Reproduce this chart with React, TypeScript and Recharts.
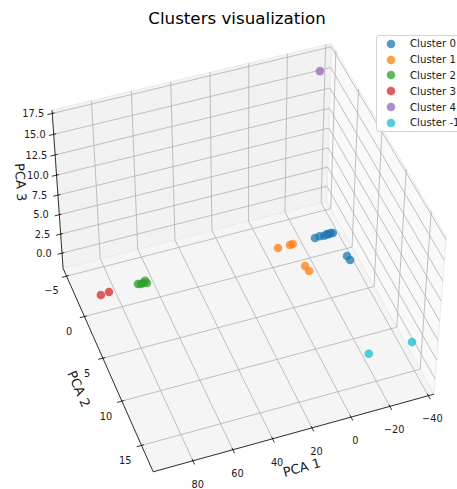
import React from 'react'
import { ComposedChart, XAxis, YAxis, Area, Line, Scatter, Legend } from 'recharts'

const W = 457
const H = 489

// limits of the 3d box (as drawn)
const PCA1_LIM = [-43, 99.7]
const PCA2_LIM = [-6, 17.9]
const PCA3_LIM = [-2, 17.9]

const PCA1_TICKS = [-40, -20, 0, 20, 40, 60, 80]
const PCA2_TICKS = [-5, 0, 5, 10, 15]
const PCA3_TICKS = [0, 2.5, 5, 7.5, 10, 12.5, 15, 17.5]

const CLUSTER_NAMES = ['Cluster 0', 'Cluster 1', 'Cluster 2', 'Cluster 3', 'Cluster 4', 'Cluster -1']
const CLUSTER_COLORS = ['#1f77b4', '#ff7f0e', '#2ca02c', '#d62728', '#9467bd', '#17becf']

// points
const cluster0Pca1 = [-23.5, -26.0, -28.5, -30.0, -31.0, -32.0, -33.3, -34.0, -34.4]
const cluster0Pca2 = [-0.42, -0.4, -0.4, -0.42, -0.45, -0.44, -0.46, 2.5, 3.04]
const cluster0Pca3 = [0, 0.1, 0, 0.1, 0, 0.1, 0, 0, 0]

const cluster1Pca1 = [-3.5, -9.9, -11.4, -11.7, -12.35]
const cluster1Pca2 = [-0.37, -0.36, -0.38, 2.4, 3.07]
const cluster1Pca3 = [0, 0, 0, 0, 0]

const cluster2Pca1 = [70.7, 69.3, 68.1, 66.7, 66.3]
const cluster2Pca2 = [-0.38, -0.3, -0.35, -0.52, -0.24]
const cluster2Pca3 = [0, 0, 0, 0, 0]

const cluster3Pca1 = [90.3, 85.9]
const cluster3Pca2 = [-0.22, -0.32]
const cluster3Pca3 = [0, 0]

const cluster4Pca1 = [-32.4]
const cluster4Pca2 = [-3.96]
const cluster4Pca3 = [17]

const clusterM1Pca1 = [-13.2, -35.4]
const clusterM1Pca2 = [15.8, 15.8]
const clusterM1Pca3 = [3, 3]

// camera, same maths as a matplotlib 3d axes
const ELEV = 45
const AZIM = 70
const DIST = 10
const K = 2608 // px per projected unit
const CX = 244.2
const CY = 253

type P3 = [number, number, number]

const dot = (a: number[], b: number[]) => a[0] * b[0] + a[1] * b[1] + a[2] * b[2]
const cross = (a: number[], b: number[]) => [
  a[1] * b[2] - a[2] * b[1],
  a[2] * b[0] - a[0] * b[2],
  a[0] * b[1] - a[1] * b[0],
]
const norm = (a: number[]) => {
  const n = Math.hypot(a[0], a[1], a[2])
  return a.map((c) => c / n)
}

const aspect = [4, 4, 3]
const BOX = aspect.map((a) => (a * 1.8294640721620434) / Math.hypot(4, 4, 3))
const er = (ELEV * Math.PI) / 180
const ar = (AZIM * Math.PI) / 180
const ps = [Math.cos(er) * Math.cos(ar), Math.cos(er) * Math.sin(ar), Math.sin(er)]
const EYE = BOX.map((b, i) => b / 2 + DIST * ps[i])
const wv = norm(ps)
const uv = norm(cross([0, 0, 1], wv))
const vv = cross(wv, uv)

function project(p: P3): { x: number; y: number } {
  const q = [
    ((p[0] - PCA1_LIM[0]) / (PCA1_LIM[1] - PCA1_LIM[0])) * BOX[0],
    ((p[1] - PCA2_LIM[0]) / (PCA2_LIM[1] - PCA2_LIM[0])) * BOX[1],
    ((p[2] - PCA3_LIM[0]) / (PCA3_LIM[1] - PCA3_LIM[0])) * BOX[2],
  ]
  const d = q.map((c, i) => c - EYE[i])
  const z = -dot(wv, d)
  return { x: dot(uv, d) / z, y: dot(vv, d) / z }
}

const screenAngle = (a: P3, b: P3) => {
  const pa = project(a)
  const pb = project(b)
  return (Math.atan2(-(pb.y - pa.y), pb.x - pa.x) * 180) / Math.PI
}

const [x0, x1] = PCA1_LIM
const [y0, y1] = PCA2_LIM
const [z0, z1] = PCA3_LIM

function paneData(corners: P3[]) {
  const poly = corners.map(project)
  const xs = Array.from(new Set(poly.map((p) => p.x))).sort((a, b) => a - b)
  return xs.map((x) => {
    const ys: number[] = []
    poly.forEach((p, i) => {
      const q = poly[(i + 1) % poly.length]
      if (p.x === q.x) {
        if (x === p.x) ys.push(p.y, q.y)
      } else if ((x - p.x) * (x - q.x) <= 0) {
        ys.push(p.y + ((q.y - p.y) * (x - p.x)) / (q.x - p.x))
      }
    })
    return { x, r: [Math.min(...ys), Math.max(...ys)] }
  })
}

function segData(segs: [P3, P3][]) {
  const out: { x: number; y: number | null }[] = []
  segs.forEach(([a, b]) => {
    const pa = project(a)
    const pb = project(b)
    out.push(pa, pb, { x: pb.x, y: null })
  })
  return out
}

const panes = [
  { key: 'xpane', fill: '#f9f9f9', corners: [[x0, y0, z0], [x0, y1, z0], [x0, y1, z1], [x0, y0, z1]] as P3[] },
  { key: 'ypane', fill: '#f2f2f2', corners: [[x0, y0, z0], [x1, y0, z0], [x1, y0, z1], [x0, y0, z1]] as P3[] },
  { key: 'zpane', fill: '#f5f5f5', corners: [[x0, y0, z0], [x1, y0, z0], [x1, y1, z0], [x0, y1, z0]] as P3[] },
]

const paneEdges: [P3, P3][] = []
panes.forEach((p) => p.corners.forEach((c, i) => paneEdges.push([c, p.corners[(i + 1) % 4]])))

const gridSegs: [P3, P3][] = []
PCA1_TICKS.forEach((t) => {
  gridSegs.push([[t, y0, z0], [t, y1, z0]])
  gridSegs.push([[t, y0, z0], [t, y0, z1]])
})
PCA2_TICKS.forEach((t) => {
  gridSegs.push([[x0, t, z0], [x1, t, z0]])
  gridSegs.push([[x0, t, z0], [x0, t, z1]])
})
PCA3_TICKS.forEach((t) => {
  gridSegs.push([[x0, y0, t], [x1, y0, t]])
  gridSegs.push([[x0, y0, t], [x0, y1, t]])
})

const axisSegs: [P3, P3][] = [
  [[x0, y1, z0], [x1, y1, z0]],
  [[x1, y0, z0], [x1, y1, z0]],
  [[x1, y0, z0], [x1, y0, z1]],
  ...PCA1_TICKS.map((t) => [[t, y1 - 0.2, z0], [t, y1 + 0.4, z0]] as [P3, P3]),
  ...PCA2_TICKS.map((t) => [[x1 - 1.2, t, z0], [x1 + 2.4, t, z0]] as [P3, P3]),
  ...PCA3_TICKS.map((t) => [[x1 - 1.2, y0, t], [x1 + 2.4, y0, t]] as [P3, P3]),
]

const fmt = (t: number) => (t < 0 ? '\u2212' + Math.abs(t) : String(t))

const labels = [
  ...PCA1_TICKS.map((t) => ({ ...project([t, y1 + 1.07, z0 - 1.86]), text: fmt(t), size: 9.8, angle: 0 })),
  ...PCA2_TICKS.map((t) => ({ ...project([x1 + 8.36, t, z0 - 1.44]), text: fmt(t), size: 9.8, angle: 0 })),
  ...PCA3_TICKS.map((t) => ({ ...project([x1 + 8.57, y0 - 0.49, t]), text: t.toFixed(1), size: 9.8, angle: 0 })),
  { ...project([22, y1 - 1.14, z0 - 6.65]), text: 'PCA 1', size: 13, angle: screenAngle([x1, y1, z0], [x0, y1, z0]) },
  { ...project([x1 + 17, 7.5, z0 - 0.08]), text: 'PCA 2', size: 13, angle: screenAngle([x1, y0, z0], [x1, y1, z0]) },
  { ...project([x1 + 16.7, y0 - 1.07, 9.07]), text: 'PCA 3', size: 13, angle: screenAngle([x1, y0, z1], [x1, y0, z0]) },
]

const clusters = [
  [cluster0Pca1, cluster0Pca2, cluster0Pca3],
  [cluster1Pca1, cluster1Pca2, cluster1Pca3],
  [cluster2Pca1, cluster2Pca2, cluster2Pca3],
  [cluster3Pca1, cluster3Pca2, cluster3Pca3],
  [cluster4Pca1, cluster4Pca2, cluster4Pca3],
  [clusterM1Pca1, clusterM1Pca2, clusterM1Pca3],
].map(([a, b, c], i) => ({
  name: CLUSTER_NAMES[i],
  color: CLUSTER_COLORS[i],
  points: a.map((v, j) => project([v, b[j], c[j]])),
}))

const TextShape = (props: any) => {
  const { cx, cy, payload } = props
  return (
    <text
      x={cx}
      y={cy}
      textAnchor="middle"
      dominantBaseline="central"
      fontSize={payload.size}
      fontFamily="DejaVu Sans"
      fill="#1a1a1a"
      transform={payload.angle ? `rotate(${payload.angle} ${cx} ${cy})` : undefined}
    >
      {payload.text}
    </text>
  )
}

const ClusterLegend = (props: any) => {
  const items = (props.payload || [])
    .filter((p: any) => CLUSTER_NAMES.includes(p.value))
    .sort((a: any, b: any) => CLUSTER_NAMES.indexOf(a.value) - CLUSTER_NAMES.indexOf(b.value))
  return (
    <div
      style={{
        border: '1px solid #d3d3d3',
        borderRadius: 3,
        background: 'rgba(255,255,255,0.85)',
        padding: '0 8px 0 9px',
        fontFamily: 'DejaVu Sans',
        fontSize: 10.2,
        color: '#1a1a1a',
        whiteSpace: 'nowrap',
      }}
    >
      {items.map((item: any) => (
        <div key={item.value} style={{ display: 'flex', alignItems: 'center', height: 15.8 }}>
          <svg width={10} height={10} style={{ marginRight: 14 }}>
            <circle cx={5} cy={5} r={4.3} fill={item.color} fillOpacity={0.75} />
          </svg>
          <span>{item.value}</span>
        </div>
      ))}
    </div>
  )
}

export default function App() {
  return (
    <div style={{ position: 'absolute', left: 0, top: 0, width: W, height: H, overflow: 'hidden', background: '#fff' }}>
      <div
        style={{
          position: 'absolute',
          left: 0,
          top: 8,
          width: 474,
          textAlign: 'center',
          fontFamily: 'DejaVu Sans',
          fontSize: 16.7,
          lineHeight: '20px',
          color: '#000',
        }}
      >
        Clusters visualization
      </div>
      <ComposedChart width={W} height={H} margin={{ top: 0, right: 0, bottom: 0, left: 0 }}>
        <XAxis type="number" dataKey="x" hide domain={[-CX / K, (W - CX) / K]} allowDataOverflow />
        <YAxis type="number" hide domain={[(CY - H) / K, CY / K]} allowDataOverflow />
        {panes.map((p) => (
          <Area
            key={p.key}
            data={paneData(p.corners)}
            dataKey="r"
            type="linear"
            fill={p.fill}
            fillOpacity={1}
            stroke="none"
            dot={false}
            activeDot={false}
            legendType="none"
            isAnimationActive={false}
          />
        ))}
        <Line data={segData(paneEdges)} dataKey="y" stroke="#ececec" strokeWidth={1} dot={false} activeDot={false} legendType="none" isAnimationActive={false} />
        <Line data={segData(gridSegs)} dataKey="y" stroke="#b0b0b0" strokeWidth={0.8} dot={false} activeDot={false} legendType="none" isAnimationActive={false} />
        <Line data={segData(axisSegs)} dataKey="y" stroke="#000" strokeWidth={0.8} dot={false} activeDot={false} legendType="none" isAnimationActive={false} />
        <Scatter data={labels} dataKey="y" shape={TextShape} legendType="none" isAnimationActive={false} />
        {clusters.map((c) => (
          <Scatter
            key={c.name}
            name={c.name}
            data={c.points}
            dataKey="y"
            fill={c.color}
            shape={(p: any) => <circle cx={p.cx} cy={p.cy} r={4.3} fill={c.color} fillOpacity={0.75} />}
            isAnimationActive={false}
          />
        ))}
        <Legend layout="vertical" align="center" verticalAlign="middle" wrapperStyle={{ left: 376, top: 35 }} content={ClusterLegend} />
      </ComposedChart>
    </div>
  )
}
